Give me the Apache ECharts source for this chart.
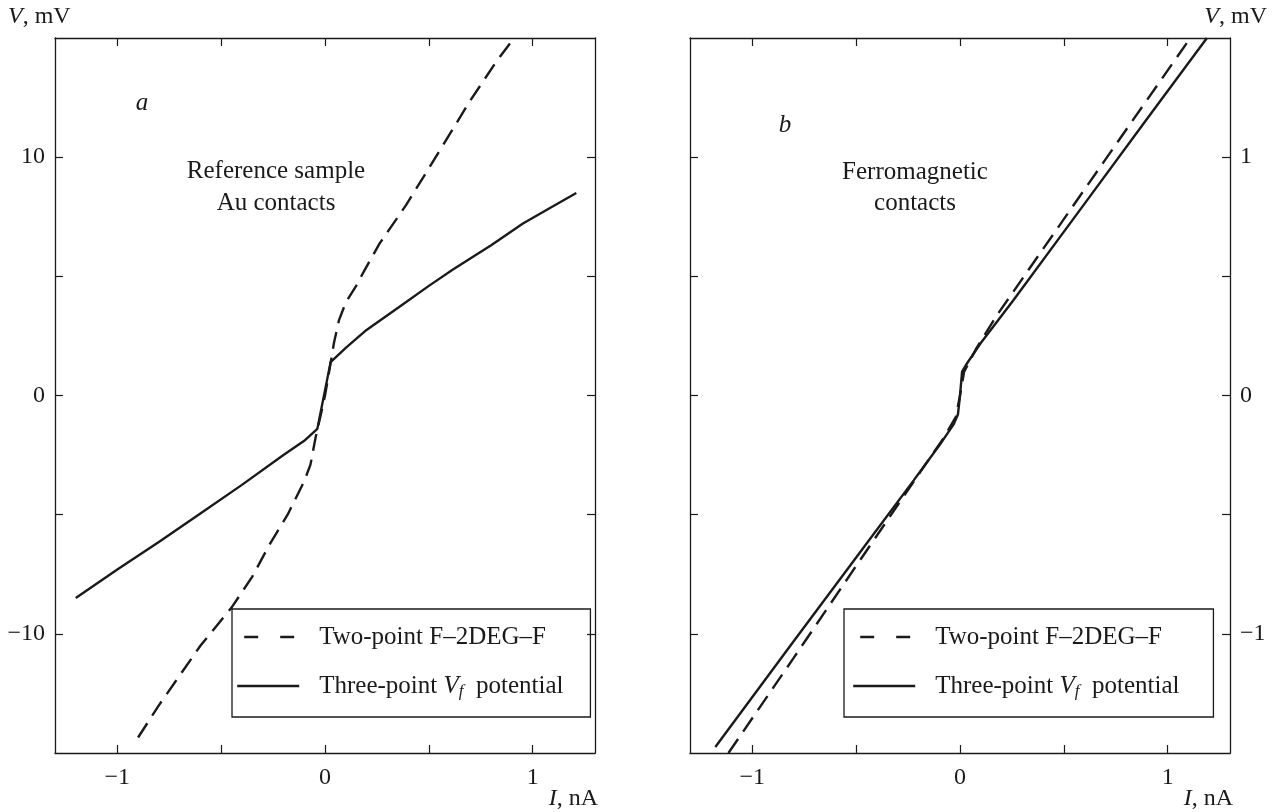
<!DOCTYPE html>
<html>
<head>
<meta charset="utf-8">
<script src="https://cdn.jsdelivr.net/npm/echarts@6/dist/echarts.min.js"></script>
<style>
html,body{margin:0;padding:0;background:#fff;}
#chart{width:1275px;height:812px;}
</style>
</head>
<body>
<div id="chart"></div>
<script>
// ---- Data ----
// Panel a: reference sample, Au contacts (I in nA, V in mV)
const aTwoI = [-0.90, -0.80, -0.72, -0.60, -0.45, -0.35, -0.27, -0.18, -0.10, -0.07, -0.045, -0.02, 0.0, 0.02, 0.043, 0.067, 0.10, 0.15, 0.19, 0.263, 0.391, 0.552, 0.696, 0.824, 0.913];
const aTwoV = [-14.35, -13.0, -12.0, -10.5, -8.9, -7.6, -6.3, -5.0, -3.6, -2.9, -1.75, -0.8, 0.0, 1.0, 2.2, 3.15, 3.9, 4.6, 5.25, 6.38, 8.0, 10.27, 12.33, 14.0, 15.03];
const aThreeI = [-1.2, -1.0, -0.8, -0.6, -0.4, -0.2, -0.1, -0.037, 0.027, 0.1, 0.2, 0.357, 0.5, 0.616, 0.8, 0.953, 1.1, 1.21];
const aThreeV = [-8.5, -7.3, -6.15, -4.95, -3.75, -2.5, -1.9, -1.4, 1.4, 2.0, 2.75, 3.71, 4.6, 5.29, 6.3, 7.22, 7.95, 8.5];
// Panel b: ferromagnetic contacts
const bTwoI = [-1.115, -0.8, -0.5, -0.175, -0.08, -0.02, 0.0, 0.02, 0.08, 0.178, 0.5, 0.8, 1.109];
const bTwoV = [-1.5, -1.1, -0.715, -0.30, -0.18, -0.09, 0.0, 0.1, 0.2, 0.337, 0.74, 1.115, 1.5];
const bThreeI = [-1.178, -0.8, -0.5, -0.223, -0.1, -0.03, -0.01, 0.0, 0.01, 0.03, 0.1, 0.257, 0.6, 0.9, 1.189];
const bThreeV = [-1.475, -1.03, -0.68, -0.356, -0.21, -0.12, -0.08, 0.0, 0.1, 0.13, 0.22, 0.40, 0.805, 1.16, 1.5];

// Ticks
const xTicks = [-1, -0.5, 0, 0.5, 1];
const xLabels = [-1, 0, 1];
const aYTicks = [-10, -5, 0, 5, 10];
const aYLabels = [-10, 0, 10];
const bYTicks = [-1, -0.5, 0, 0.5, 1];
const bYLabels = [-1, 0, 1];

const seriesTwo = 'Two-point F–2DEG–F';
const seriesThree = 'Three-point Vf potential';

// ---- Chart ----
const FONT = 'Liberation Serif';
const FS = 24;     // tick labels / axis titles
const FT = 25;     // annotations and legend
const INK = '#1a1a1a';
const pairs = (xs, ys) => xs.map((x, i) => [x, ys[i]]);
const fmt = v => (v < 0 ? '\u2212' + Math.abs(v) : String(v));

function xAx(grid, top, labels) {
  return {
    type: 'value', gridIndex: grid, position: top ? 'top' : 'bottom',
    min: -1.3, max: 1.3,
    axisLine: { show: true, onZero: false, lineStyle: { color: INK, width: 1.3 } },
    axisTick: { show: true, inside: true, length: 8, customValues: xTicks, lineStyle: { color: INK, width: 1.2 } },
    axisLabel: labels ? { show: true, customValues: xLabels, formatter: fmt, fontFamily: FONT, fontSize: FS, color: INK, margin: 13 } : { show: false },
    splitLine: { show: false }
  };
}
function yAx(grid, right, min, max, ticks, labelVals) {
  return {
    type: 'value', gridIndex: grid, position: right ? 'right' : 'left',
    min: min, max: max,
    axisLine: { show: true, onZero: false, lineStyle: { color: INK, width: 1.3 } },
    axisTick: { show: true, inside: true, length: 8, customValues: ticks, lineStyle: { color: INK, width: 1.2 } },
    axisLabel: labelVals ? { show: true, customValues: labelVals, formatter: fmt, fontFamily: FONT, fontSize: FS, color: INK, margin: 10 } : { show: false },
    splitLine: { show: false }
  };
}

const dashStyle = { color: INK, width: 2.4, type: [17, 9] };
const solidStyle = { color: INK, width: 2.4, type: 'solid' };
function line(name, xi, yi, data, style) {
  return {
    name: name, type: 'line', xAxisIndex: xi, yAxisIndex: yi, data: data,
    symbol: 'none', showSymbol: false, smooth: false, lineStyle: style,
    itemStyle: { color: INK }, silent: true, animation: false
  };
}

const legendRich = {
  i: { fontFamily: FONT, fontSize: FT, fontStyle: 'italic', color: INK, lineHeight: 28 },
  s: { fontFamily: FONT, fontSize: 17, fontStyle: 'italic', color: INK, padding: [11, 0, 0, 0], lineHeight: 28 }
};
function legend(left, padLeft, padRight) {
  return {
    orient: 'vertical', left: left, top: 609,
    data: [
      { name: seriesTwo, itemStyle: { opacity: 0 }, lineStyle: { color: INK, width: 2.4, type: [14, 22], dashOffset: -7 } },
      { name: seriesThree, itemStyle: { opacity: 0 }, lineStyle: { color: INK, width: 2.4, type: 'solid' } }
    ],
    itemWidth: 62, itemHeight: 14, itemGap: 21,
    itemStyle: { opacity: 0 },
    borderColor: INK, borderWidth: 1.3, borderRadius: 0,
    padding: [14, padRight, 17, padLeft],
    selectedMode: false,
    textStyle: { fontFamily: FONT, fontSize: FT, color: INK, lineHeight: 28, padding: [0, 0, 0, 15], rich: legendRich },
    formatter: n => n === seriesThree ? 'Three-point {i|V}{s|f}  potential' : n
  };
}

const txt = (x, y, text, align, size) => ({
  type: 'text', x: x, y: y, silent: true,
  style: { text: text, fontFamily: FONT, fontSize: size || FS, fill: INK, align: align || 'left', verticalAlign: 'middle',
    rich: { i: { fontFamily: FONT, fontSize: size || FS, fontStyle: 'italic', fill: INK } } }
});

const chart = echarts.init(document.getElementById('chart'), null, { renderer: 'canvas' });
chart.setOption({
  backgroundColor: '#fff',
  animation: false,
  grid: [
    { left: 55, top: 38, width: 540, height: 715 },
    { left: 690, top: 38, width: 540, height: 715 }
  ],
  xAxis: [xAx(0, false, true), xAx(0, true, false), xAx(1, false, true), xAx(1, true, false)],
  yAxis: [
    yAx(0, false, -15, 15, aYTicks, aYLabels),
    yAx(0, true, -15, 15, aYTicks, null),
    yAx(1, true, -1.5, 1.5, bYTicks, bYLabels),
    yAx(1, false, -1.5, 1.5, bYTicks, null)
  ],
  legend: [legend(232, 4, 27), legend(844, 8, 34)],
  series: [
    line(seriesTwo, 0, 0, pairs(aTwoI, aTwoV), dashStyle),
    line(seriesThree, 0, 0, pairs(aThreeI, aThreeV), solidStyle),
    line(seriesTwo, 2, 2, pairs(bTwoI, bTwoV), dashStyle),
    line(seriesThree, 2, 2, pairs(bThreeI, bThreeV), solidStyle)
  ],
  graphic: [
    txt(8, 17, '{i|V}, mV'),
    txt(1267, 17, '{i|V}, mV', 'right'),
    txt(598, 799, '{i|I}, nA', 'right'),
    txt(1233, 799, '{i|I}, nA', 'right'),
    txt(142, 103, '{i|a}', 'center', FT),
    txt(785, 125, '{i|b}', 'center', FT),
    txt(276, 171, 'Reference sample', 'center', FT),
    txt(276, 203, 'Au contacts', 'center', FT),
    txt(915, 172, 'Ferromagnetic', 'center', FT),
    txt(915, 203, 'contacts', 'center', FT)
  ]
});
</script>
</body>
</html>
